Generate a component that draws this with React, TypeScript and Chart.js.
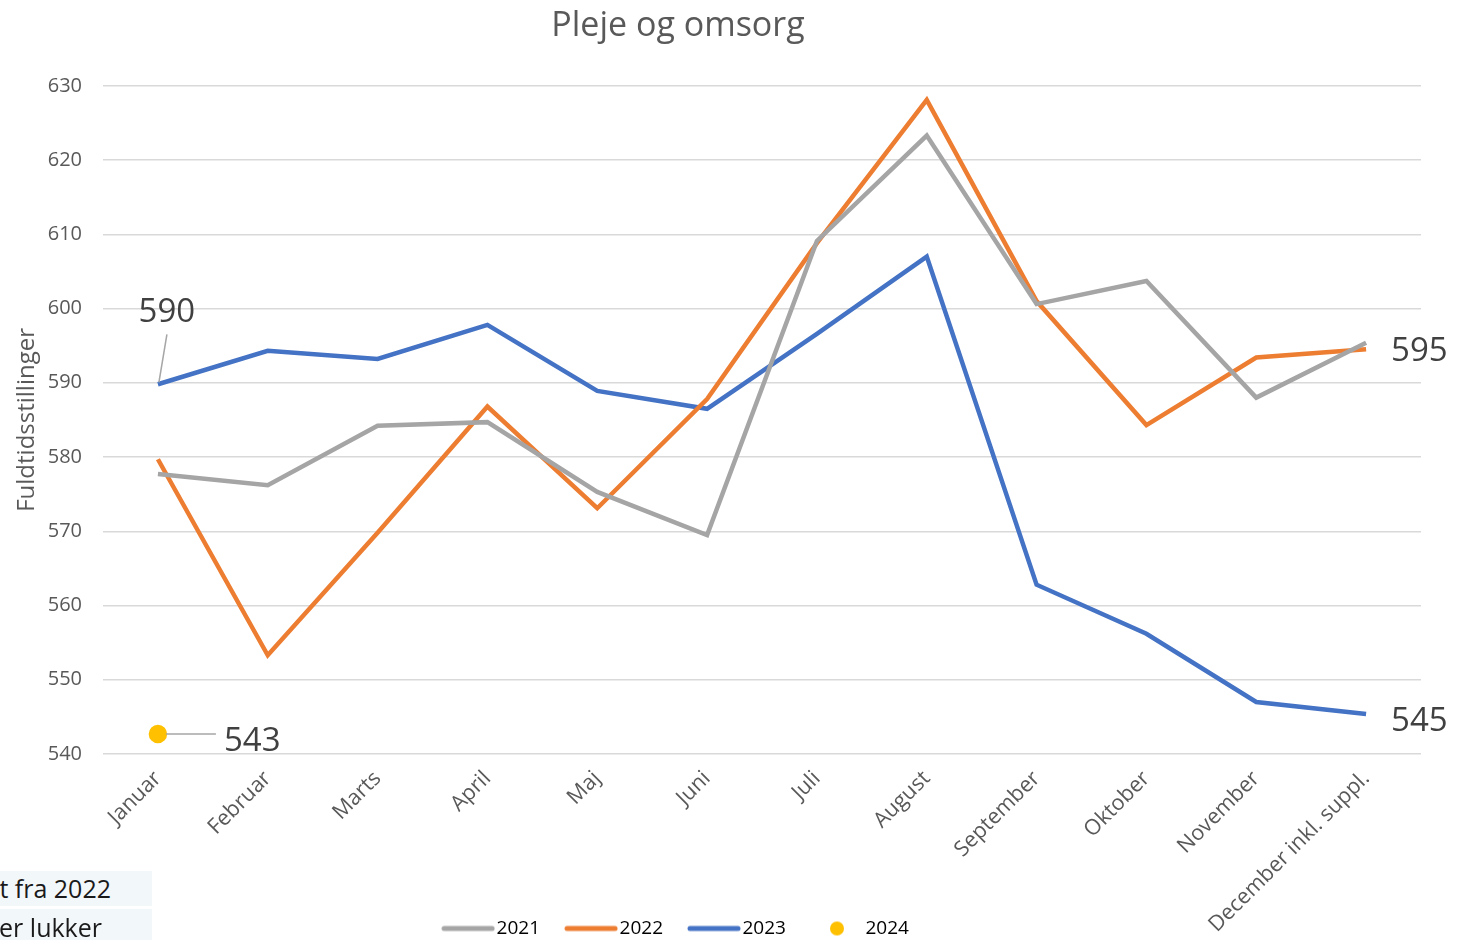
import React, { useEffect, useRef } from 'react';
import { Chart, registerables } from 'chart.js';

Chart.register(...registerables);

const months = [
  'Januar', 'Februar', 'Marts', 'April', 'Maj', 'Juni', 'Juli', 'August',
  'September', 'Oktober', 'November', 'December inkl. suppl.',
];
const seriesNames = ['2021', '2022', '2023', '2024'];
const values2021 = [577.7, 576.2, 584.2, 584.7, 575.3, 569.5, 609.1, 623.3, 600.6, 603.7, 588.0, 595.4];
const values2022 = [579.7, 553.3, 569.8, 586.8, 573.1, 587.8, 608.8, 628.1, 601.0, 584.3, 593.4, 594.5];
const values2023 = [589.8, 594.3, 593.2, 597.8, 588.9, 586.5, 596.6, 607.0, 562.8, 556.2, 547.0, 545.4];
const values2024: (number | null)[] = [542.7, null, null, null, null, null, null, null, null, null, null, null];
const yMin = 540;
const yMax = 630;
const yStep = 10;
const chartTitle = 'Pleje og omsorg';
const yTitle = 'Fuldtidsstillinger';
const noteLines = ['t fra 2022', 'er lukker'];

const colors = ['#a5a5a5', '#ed7d31', '#4472c4', '#ffc000'];
const FONT = "'Open Sans', sans-serif";

function lineImage(color: string) {
  const c = document.createElement('canvas');
  c.width = 54; c.height = 8;
  const g = c.getContext('2d')!;
  g.strokeStyle = color; g.lineWidth = 5; g.lineCap = 'round';
  g.beginPath(); g.moveTo(3, 4); g.lineTo(51, 4); g.stroke();
  return c;
}
function dotImage(color: string) {
  const c = document.createElement('canvas');
  c.width = 54; c.height = 16;
  const g = c.getContext('2d')!;
  g.fillStyle = color;
  g.beginPath(); g.arc(27, 8, 7, 0, Math.PI * 2); g.fill();
  return c;
}

// data label plugin: label = rounded value of the referenced point
const labelSpecs = [
  { ds: 2, idx: 0, align: 'center', dx: 9, dy: -72, lead: [[1, -2], [9, -50]] },
  { ds: 3, idx: 0, align: 'left', dx: 66, dy: 8, lead: [[8, 0], [58, 0]] },
  { ds: 1, idx: 11, align: 'left', dx: 25, dy: 2, lead: null },
  { ds: 2, idx: 11, align: 'left', dx: 25, dy: 8, lead: null },
];

const labelPlugin = {
  id: 'valueLabels',
  afterDatasetsDraw(chart: any) {
    const ctx = chart.ctx;
    ctx.save();
    labelSpecs.forEach((s) => {
      const meta = chart.getDatasetMeta(s.ds);
      const pt = meta.data[s.idx];
      const v = chart.data.datasets[s.ds].data[s.idx];
      if (!pt || v == null) return;
      const x = pt.x, y = pt.y;
      if (s.lead) {
        ctx.strokeStyle = '#a6a6a6';
        ctx.lineWidth = 1.5;
        ctx.beginPath();
        ctx.moveTo(x + s.lead[0][0], y + s.lead[0][1]);
        ctx.lineTo(x + s.lead[1][0], y + s.lead[1][1]);
        ctx.stroke();
      }
      ctx.fillStyle = '#404040';
      ctx.font = `33px ${FONT}`;
      ctx.textAlign = s.align;
      ctx.textBaseline = 'middle';
      ctx.fillText(String(Math.round(v)), x + s.dx, y + s.dy);
    });
    ctx.restore();
  },
};

const shiftPlugin = {
  id: 'shiftBlocks',
  afterLayout(chart: any) {
    const t = chart.titleBlock;
    if (t) { t.left -= 37; t.right -= 37; }
    const l = chart.legend;
    if (l) { l.left -= 36; l.right -= 36; l.top += 8; l.bottom += 8; }
    const x = chart.scales.x;
    if (x) { x.bottom = chart.height; }
  },
};

export default function App() {
  const ref = useRef<HTMLCanvasElement>(null);
  useEffect(() => {
    document.body.style.margin = '0';
    const imgs = [lineImage(colors[0]), lineImage(colors[1]), lineImage(colors[2]), dotImage(colors[3])];
    const series = [values2021, values2022, values2023, values2024];
    const chart = new Chart(ref.current!, {
      type: 'line',
      data: {
        labels: months,
        datasets: series.map((d, i) => ({
          label: seriesNames[i],
          data: d,
          borderColor: colors[i],
          backgroundColor: colors[i],
          borderWidth: 4.5,
          pointRadius: i === 3 ? 7 : 0,
          pointHoverRadius: i === 3 ? 7 : 0,
          showLine: i !== 3,
          tension: 0,
          fill: false,
        })),
      },
      options: {
        responsive: false,
        animation: false,
        layout: { padding: { left: 9, right: 38, top: 0, bottom: 0 } },
        plugins: {
          tooltip: { enabled: false },
          title: {
            display: true,
            text: chartTitle,
            color: '#595959',
            font: { family: FONT, size: 34, weight: 'normal' },
            padding: { top: 6, bottom: 39 },
          },
          legend: {
            display: true,
            position: 'bottom',
            labels: {
              usePointStyle: true,
              pointStyleWidth: 38,
              padding: 32,
              color: '#595959',
              font: { family: FONT, size: 19 },
              generateLabels: () =>
                seriesNames.map((n, i) => ({
                  text: n,
                  pointStyle: imgs[i],
                  fillStyle: colors[i],
                  strokeStyle: colors[i],
                  lineWidth: 0,
                  hidden: false,
                  datasetIndex: i,
                })),
            },
          },
        },
        scales: {
          x: {
            offset: true,
            grid: { display: false, drawTicks: false },
            border: { display: false },
            ticks: {
              autoSkip: false,
              minRotation: 45,
              maxRotation: 45,
              padding: 12,
              color: '#595959',
              font: { family: FONT, size: 21.5 },
            },
            afterFit: (scale: any) => {
              const lh = scale.chart.legend ? scale.chart.legend.height : 0;
              scale.height = 186 - lh;
            },
          },
          y: {
            min: yMin,
            max: yMax,
            ticks: {
              stepSize: yStep,
              padding: 21,
              color: '#595959',
              font: { family: FONT, size: 20 },
            },
            grid: { color: '#d9d9d9', lineWidth: 1.5, drawTicks: false },
            border: { display: false },
            title: {
              display: true,
              text: yTitle,
              color: '#595959',
              font: { family: FONT, size: 24 },
              padding: { top: 4, bottom: 4 },
            },
            afterFit: (scale: any) => { scale.width = 94; },
          },
        },
      },
      plugins: [labelPlugin, shiftPlugin],
    } as any);
    return () => chart.destroy();
  }, []);

  return (
    <div style={{ position: 'relative', width: 1459, height: 940, overflow: 'hidden', background: '#fff' }}>
      <canvas ref={ref} width={1459} height={940} style={{ display: 'block', width: 1459, height: 940 }} />
      {noteLines.map((t, i) => (
        <div
          key={i}
          style={{
            position: 'absolute',
            left: 0,
            top: i === 0 ? 871 : 909,
            width: 152,
            height: i === 0 ? 35 : 31,
            background: '#f2f7fa',
            overflow: 'hidden',
          }}
        >
          <span
            style={{
              position: 'absolute',
              right: i === 0 ? 41 : 50,
              top: i === 0 ? 0 : 1,
              fontFamily: FONT,
              fontSize: 25,
              lineHeight: '35px',
              color: '#1a1a1a',
              whiteSpace: 'nowrap',
            }}
          >
            {t}
          </span>
        </div>
      ))}
    </div>
  );
}
